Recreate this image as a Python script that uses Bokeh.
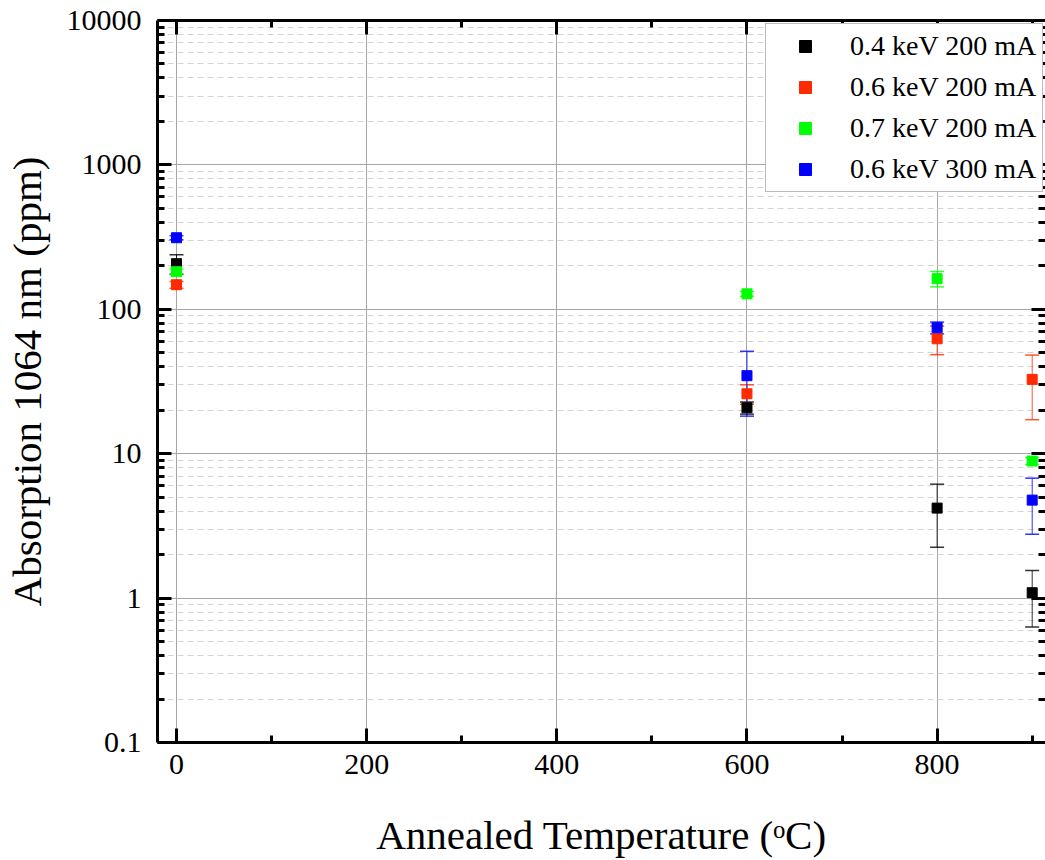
from bokeh.plotting import figure
from bokeh.models import (ColumnDataSource, Whisker, TeeHead, FixedTicker, Range1d,
                          LinearAxis, LogAxis, PrintfTickFormatter, Legend, LegendItem)
from bokeh.embed import file_html
from bokeh.resources import INLINE

# ---- data ----
temps = [0, 600, 800, 900]
labels = ["0.4 keV 200 mA", "0.6 keV 200 mA", "0.7 keV 200 mA", "0.6 keV 300 mA"]
colors = ["#000000", "#ff2a00", "#00ff00", "#0000ff"]

vals_04_200 = [207, 20.8, 4.2, 1.09]
errs_04_200 = [32, 2.0, 1.95, 0.46]
vals_06_200 = [148, 26, 62.5, 32.7]
errs_06_200 = [8, 4.0, 14, 15.5]
vals_07_200 = [182, 128, 163, 8.9]
errs_07_200 = [8, 5, 20, 0.5]
vals_06_300 = [313, 34.7, 74.6, 4.77]
errs_06_300 = [10, 16.5, 7, 2.0]

series_vals = [vals_04_200, vals_06_200, vals_07_200, vals_06_300]
series_errs = [errs_04_200, errs_06_200, errs_07_200, errs_06_300]

y_major = [0.1, 1, 10, 100, 1000, 10000]
x_major = [0, 200, 400, 600, 800]
x_minor = [100, 300, 500, 700, 900]

FONT = "Liberation Serif"

y_minor = []
for d in [0.1, 1, 10, 100, 1000]:
    for k in range(2, 10):
        y_minor.append(round(d * k, 6))

p = figure(width=1045, height=860, y_axis_type="log",
           x_range=Range1d(-20, 914), y_range=Range1d(0.1, 10000),
           output_backend="svg", toolbar_location=None,
           min_border_left=155, min_border_right=0,
           min_border_top=20, min_border_bottom=118,
           background_fill_color="white", border_fill_color="white")
p.outline_line_color = None

xticker = FixedTicker(ticks=x_major, minor_ticks=x_minor)
yticker = FixedTicker(ticks=y_major, minor_ticks=y_minor)

p.xaxis.ticker = xticker
p.yaxis.ticker = yticker
p.xgrid.ticker = xticker
p.ygrid.ticker = yticker
p.yaxis.formatter = PrintfTickFormatter(format="%g")

p.xgrid.grid_line_color = "#a6a6a6"
p.xgrid.grid_line_width = 1
p.ygrid.grid_line_color = "#a6a6a6"
p.ygrid.grid_line_width = 1
p.ygrid.minor_grid_line_color = "#d4d4d4"
p.ygrid.minor_grid_line_dash = "6 4"
p.ygrid.minor_grid_line_width = 1


def style_axis(ax, show_labels=True):
    ax.axis_line_width = 3
    ax.axis_line_color = "black"
    ax.major_tick_in = 14
    ax.major_tick_out = 0
    ax.minor_tick_in = 7
    ax.minor_tick_out = 0
    ax.major_tick_line_width = 3
    ax.minor_tick_line_width = 3
    ax.major_tick_line_color = "black"
    ax.minor_tick_line_color = "black"
    if show_labels:
        ax.major_label_text_font = FONT
        ax.major_label_text_font_size = "30px"
        ax.major_label_text_color = "black"
    else:
        ax.major_label_text_font_size = "1px"
        ax.major_label_text_color = None
        ax.major_label_standoff = 0


style_axis(p.xaxis[0])
style_axis(p.yaxis[0])
p.xaxis.major_label_standoff = 12
p.yaxis.major_label_standoff = 16

p.xaxis.axis_label = "Annealed Temperature (\u1d52C)"
p.yaxis.axis_label = "Absorption 1064 nm (ppm)"
for ax in (p.xaxis[0], p.yaxis[0]):
    ax.axis_label_text_font = FONT
    ax.axis_label_text_font_size = "41px"
    ax.axis_label_text_font_style = "normal"
    ax.axis_label_text_color = "black"
p.xaxis.axis_label_standoff = 35
p.yaxis.axis_label_standoff = 14

top_ax = LinearAxis(ticker=xticker)
style_axis(top_ax, show_labels=False)
p.add_layout(top_ax, "above")
right_ax = LogAxis(ticker=yticker)
style_axis(right_ax, show_labels=False)
right_ax.axis_line_width = 1
p.add_layout(right_ax, "right")

items = []
for lab, col, vals, errs in zip(labels, colors, series_vals, series_errs):
    src = ColumnDataSource(dict(
        x=temps, y=vals,
        lower=[v - e for v, e in zip(vals, errs)],
        upper=[v + e for v, e in zip(vals, errs)]))
    w = Whisker(base="x", lower="lower", upper="upper", source=src,
                line_color=col, line_width=1, line_alpha=0.8,
                upper_head=TeeHead(size=14, line_color=col, line_width=1.5, line_alpha=0.8),
                lower_head=TeeHead(size=14, line_color=col, line_width=1.5, line_alpha=0.8))
    p.add_layout(w)
    r = p.scatter("x", "y", source=src, marker="square", size=10,
                  fill_color=col, line_color=col)
    items.append(LegendItem(label=lab, renderers=[r]))

legend = Legend(items=items, location=(608, 550))
legend.label_text_font = FONT
legend.label_text_font_size = "28px"
legend.label_text_color = "black"
legend.padding = 6
legend.spacing = 9
legend.glyph_width = 66
legend.glyph_height = 30
legend.label_height = 30
legend.label_standoff = 12
legend.border_line_color = "#777777"
legend.border_line_width = 1
legend.background_fill_color = "white"
legend.background_fill_alpha = 1
legend.margin = 0
p.add_layout(legend, "center")

open("out.html", "w").write(file_html(p, INLINE))
